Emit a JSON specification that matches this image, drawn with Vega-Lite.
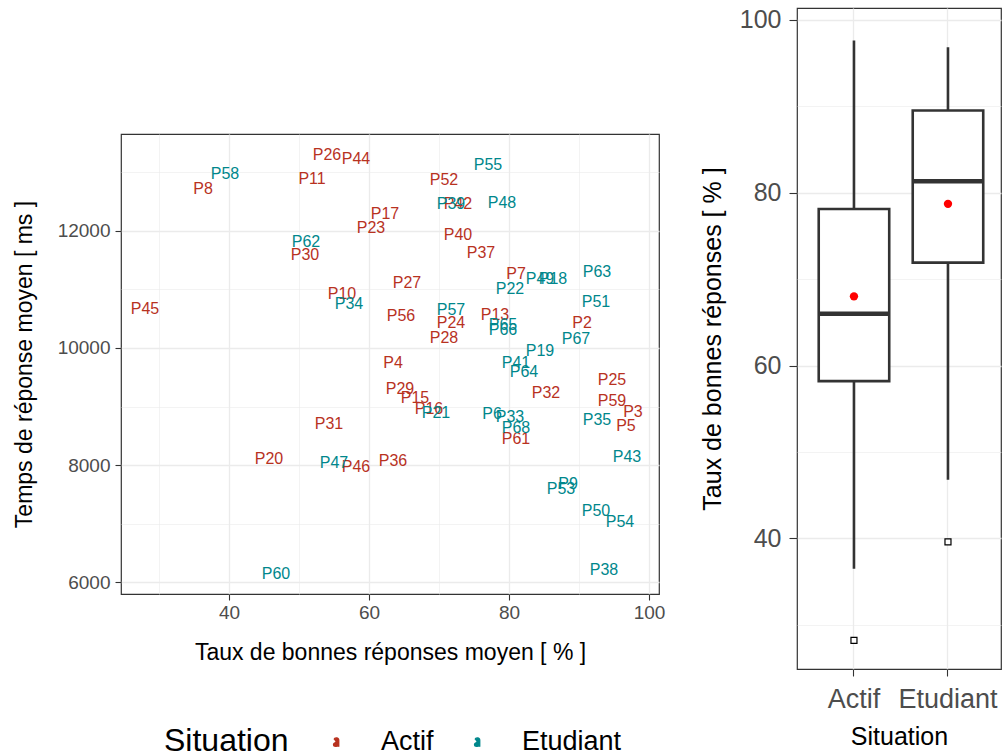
{
  "$schema": "https://vega.github.io/schema/vega-lite/v6.json",
  "background": "white",
  "padding": {"left": 12, "top": 7, "right": 0, "bottom": 0},
  "spacing": 33,
  "config": {
    "font": "Liberation Sans",
    "view": {"stroke": "#333333", "strokeWidth": 1.2},
    "axis": {
      "domain": false,
      "tickColor": "#333333",
      "tickWidth": 1.1,
      "tickSize": 6,
      "labelColor": "#4D4D4D",
      "titleColor": "#000000",
      "titleFontWeight": "normal",
      "gridColor": "#EBEBEB",
      "labelFont": "Liberation Sans",
      "titleFont": "Liberation Sans"
    }
  },
  "datasets": {
    "pts": [
      {"id": "P2", "situation": "Actif", "taux": 90.43, "temps": 10427},
      {"id": "P3", "situation": "Actif", "taux": 97.71, "temps": 8906},
      {"id": "P4", "situation": "Actif", "taux": 63.43, "temps": 9744},
      {"id": "P5", "situation": "Actif", "taux": 96.71, "temps": 8667},
      {"id": "P7", "situation": "Actif", "taux": 81.0, "temps": 11265},
      {"id": "P8", "situation": "Actif", "taux": 36.29, "temps": 12718},
      {"id": "P10", "situation": "Actif", "taux": 56.14, "temps": 10923},
      {"id": "P11", "situation": "Actif", "taux": 51.86, "temps": 12889},
      {"id": "P13", "situation": "Actif", "taux": 78.0, "temps": 10564},
      {"id": "P15", "situation": "Actif", "taux": 66.57, "temps": 9145},
      {"id": "P16", "situation": "Actif", "taux": 68.57, "temps": 8957},
      {"id": "P17", "situation": "Actif", "taux": 62.29, "temps": 12291},
      {"id": "P20", "situation": "Actif", "taux": 45.71, "temps": 8103},
      {"id": "P23", "situation": "Actif", "taux": 60.29, "temps": 12051},
      {"id": "P24", "situation": "Actif", "taux": 71.71, "temps": 10427},
      {"id": "P25", "situation": "Actif", "taux": 94.71, "temps": 9453},
      {"id": "P26", "situation": "Actif", "taux": 54.0, "temps": 13299},
      {"id": "P27", "situation": "Actif", "taux": 65.43, "temps": 11111},
      {"id": "P28", "situation": "Actif", "taux": 70.71, "temps": 10171},
      {"id": "P29", "situation": "Actif", "taux": 64.43, "temps": 9299},
      {"id": "P30", "situation": "Actif", "taux": 50.86, "temps": 11590},
      {"id": "P31", "situation": "Actif", "taux": 54.29, "temps": 8701},
      {"id": "P32", "situation": "Actif", "taux": 85.29, "temps": 9231},
      {"id": "P36", "situation": "Actif", "taux": 63.43, "temps": 8068},
      {"id": "P37", "situation": "Actif", "taux": 76.0, "temps": 11624},
      {"id": "P40", "situation": "Actif", "taux": 72.71, "temps": 11932},
      {"id": "P42", "situation": "Actif", "taux": 72.71, "temps": 12462},
      {"id": "P44", "situation": "Actif", "taux": 58.14, "temps": 13231},
      {"id": "P45", "situation": "Actif", "taux": 28.0, "temps": 10667},
      {"id": "P46", "situation": "Actif", "taux": 58.14, "temps": 7966},
      {"id": "P52", "situation": "Actif", "taux": 70.71, "temps": 12872},
      {"id": "P56", "situation": "Actif", "taux": 64.57, "temps": 10547},
      {"id": "P59", "situation": "Actif", "taux": 94.71, "temps": 9094},
      {"id": "P61", "situation": "Actif", "taux": 81.0, "temps": 8444},
      {"id": "P6", "situation": "Etudiant", "taux": 77.57, "temps": 8872},
      {"id": "P9", "situation": "Etudiant", "taux": 88.43, "temps": 7675},
      {"id": "P18", "situation": "Etudiant", "taux": 86.29, "temps": 11179},
      {"id": "P19", "situation": "Etudiant", "taux": 84.43, "temps": 9949},
      {"id": "P21", "situation": "Etudiant", "taux": 69.57, "temps": 8889},
      {"id": "P22", "situation": "Etudiant", "taux": 80.14, "temps": 11009},
      {"id": "P33", "situation": "Etudiant", "taux": 80.14, "temps": 8821},
      {"id": "P34", "situation": "Etudiant", "taux": 57.14, "temps": 10752},
      {"id": "P35", "situation": "Etudiant", "taux": 92.57, "temps": 8769},
      {"id": "P38", "situation": "Etudiant", "taux": 93.57, "temps": 6205},
      {"id": "P39", "situation": "Etudiant", "taux": 71.71, "temps": 12462},
      {"id": "P41", "situation": "Etudiant", "taux": 81.0, "temps": 9744},
      {"id": "P43", "situation": "Etudiant", "taux": 96.86, "temps": 8137},
      {"id": "P47", "situation": "Etudiant", "taux": 55.0, "temps": 8034},
      {"id": "P48", "situation": "Etudiant", "taux": 79.0, "temps": 12479},
      {"id": "P49", "situation": "Etudiant", "taux": 84.43, "temps": 11179},
      {"id": "P50", "situation": "Etudiant", "taux": 92.43, "temps": 7214},
      {"id": "P51", "situation": "Etudiant", "taux": 92.43, "temps": 10786},
      {"id": "P53", "situation": "Etudiant", "taux": 87.43, "temps": 7590},
      {"id": "P54", "situation": "Etudiant", "taux": 95.86, "temps": 7026},
      {"id": "P55", "situation": "Etudiant", "taux": 77.0, "temps": 13128},
      {"id": "P57", "situation": "Etudiant", "taux": 71.71, "temps": 10650},
      {"id": "P58", "situation": "Etudiant", "taux": 39.43, "temps": 12974},
      {"id": "P60", "situation": "Etudiant", "taux": 46.71, "temps": 6137},
      {"id": "P62", "situation": "Etudiant", "taux": 51.0, "temps": 11812},
      {"id": "P63", "situation": "Etudiant", "taux": 92.57, "temps": 11299},
      {"id": "P64", "situation": "Etudiant", "taux": 82.14, "temps": 9590},
      {"id": "P65", "situation": "Etudiant", "taux": 79.14, "temps": 10393},
      {"id": "P66", "situation": "Etudiant", "taux": 79.14, "temps": 10308},
      {"id": "P67", "situation": "Etudiant", "taux": 89.57, "temps": 10154},
      {"id": "P68", "situation": "Etudiant", "taux": 81.0, "temps": 8632}
    ],
    "box": [
      {"situation": "Actif", "lower": 36.5, "q1": 58.2, "median": 66.0, "q3": 78.1, "upper": 97.6, "mean": 68.0},
      {"situation": "Etudiant", "lower": 46.8, "q1": 71.9, "median": 81.3, "q3": 89.5, "upper": 96.8, "mean": 78.7}
    ],
    "out": [
      {"situation": "Actif", "value": 28.2},
      {"situation": "Etudiant", "value": 39.6}
    ]
  },
  "hconcat": [
    {
      "spacing": 0,
      "vconcat": [
        {
          "width": 538,
          "height": 125,
          "view": {"stroke": null},
          "data": {"values": []},
          "mark": "point"
        },
        {
          "width": 538,
          "height": 460,
          "data": {"name": "pts"},
          "mark": {"type": "text", "fontSize": 16, "font": "Liberation Sans"},
          "encoding": {
            "x": {
              "field": "taux", "type": "quantitative",
              "scale": {"domain": [24.57, 101.43], "nice": false, "zero": false},
              "axis": {
                "values": [30, 40, 50, 60, 70, 80, 90, 100],
                "title": "Taux de bonnes réponses moyen [ % ]",
                "labelExpr": "datum.value % 20 === 0 ? datum.label : ''",
                "labelFontSize": 19, "titleFontSize": 23, "labelPadding": 3, "titlePadding": 19,
                "tickSize": {"condition": {"test": "datum.value % 20 === 0", "value": 6}, "value": 0},
                "gridWidth": {"condition": {"test": "datum.value % 20 === 0", "value": 1.3}, "value": 0.6}
              }
            },
            "y": {
              "field": "temps", "type": "quantitative",
              "scale": {"domain": [5795, 13658], "nice": false, "zero": false},
              "axis": {
                "values": [6000, 7000, 8000, 9000, 10000, 11000, 12000, 13000],
                "format": "d",
                "title": "Temps de réponse moyen [ ms ]",
                "labelExpr": "datum.value % 2000 === 0 ? datum.label : ''",
                "labelFontSize": 19, "titleFontSize": 23, "labelPadding": 5, "titlePadding": 21,
                "tickSize": {"condition": {"test": "datum.value % 2000 === 0", "value": 6}, "value": 0},
                "gridWidth": {"condition": {"test": "datum.value % 2000 === 0", "value": 1.3}, "value": 0.6}
              }
            },
            "text": {"field": "id"},
            "color": {
              "field": "situation", "type": "nominal",
              "scale": {"domain": ["Actif", "Etudiant"], "range": ["#B8321F", "#00878C"]},
              "legend": {
                "orient": "none",
                "legendX": 43,
                "legendY": 720,
                "direction": "horizontal",
                "title": "Situation",
                "titleOrient": "left",
                "titleFontSize": 32,
                "titleFontWeight": "normal",
                "titleColor": "#000000",
                "titlePadding": 34,
                "labelFontSize": 27,
                "labelColor": "#000000",
                "labelOffset": 31,
                "columnPadding": 30,
                "symbolSize": 100,
                "symbolType": "M0.45,1 L0.45,-0.3 C0.45,-0.85 -0.35,-0.9 -0.5,-0.45 M0.45,0.1 C0.1,0.1 -0.6,0.1 -0.6,0.55 C-0.6,1.05 0.3,1.05 0.45,0.6",
                "encode": {
                  "symbols": {
                    "update": {
                      "stroke": {"scale": "color", "field": "value"},
                      "fill": {"value": "transparent"},
                      "strokeWidth": {"value": 1.3}
                    }
                  }
                }
              }
            }
          }
        }
      ]
    },
    {
      "width": 204,
      "height": 661,
      "encoding": {
        "x": {
          "field": "situation", "type": "nominal",
          "scale": {"domain": ["Actif", "Etudiant"], "paddingInner": 0.25, "paddingOuter": 0.21, "align": 0.55},
          "axis": {"title": "Situation", "labelAngle": 0, "labelFontSize": 27, "titleFontSize": 25, "labelPadding": 10, "titlePadding": 12, "grid": true, "gridWidth": 1.3, "tickSize": 7}
        }
      },
      "layer": [
        {
          "data": {"name": "box"},
          "mark": {"type": "rule", "strokeWidth": 2.6, "color": "#333333"},
          "encoding": {
            "y": {
              "field": "lower", "type": "quantitative",
              "scale": {"domain": [24.9, 101.35], "nice": false, "zero": false},
              "axis": {
                "values": [30, 40, 50, 60, 70, 80, 90, 100],
                "title": "Taux de bonnes réponses [ % ]",
                "labelExpr": "datum.value % 20 === 0 ? datum.label : ''",
                "labelFontSize": 25, "titleFontSize": 25, "labelPadding": 8, "titlePadding": 14,
                "tickSize": {"condition": {"test": "datum.value % 20 === 0", "value": 8}, "value": 0},
                "gridWidth": {"condition": {"test": "datum.value % 20 === 0", "value": 1.3}, "value": 0.6}
              }
            },
            "y2": {"field": "upper"}
          }
        },
        {
          "data": {"name": "box"},
          "mark": {"type": "bar", "fill": "white", "stroke": "#333333", "strokeWidth": 2.6},
          "encoding": {
            "y": {"field": "q1", "type": "quantitative"},
            "y2": {"field": "q3"}
          }
        },
        {
          "data": {"name": "box"},
          "mark": {"type": "tick", "orient": "horizontal", "thickness": 4.5, "size": 70, "color": "#333333", "opacity": 1},
          "encoding": {
            "y": {"field": "median", "type": "quantitative"}
          }
        },
        {
          "data": {"name": "box"},
          "mark": {"type": "point", "filled": true, "color": "#FF0000", "size": 70, "opacity": 1},
          "encoding": {
            "y": {"field": "mean", "type": "quantitative"}
          }
        },
        {
          "data": {"name": "out"},
          "mark": {"type": "square", "filled": false, "stroke": "#000000", "fill": "white", "size": 36, "strokeWidth": 1.2, "opacity": 1},
          "encoding": {
            "y": {"field": "value", "type": "quantitative"}
          }
        }
      ]
    }
  ]
}
